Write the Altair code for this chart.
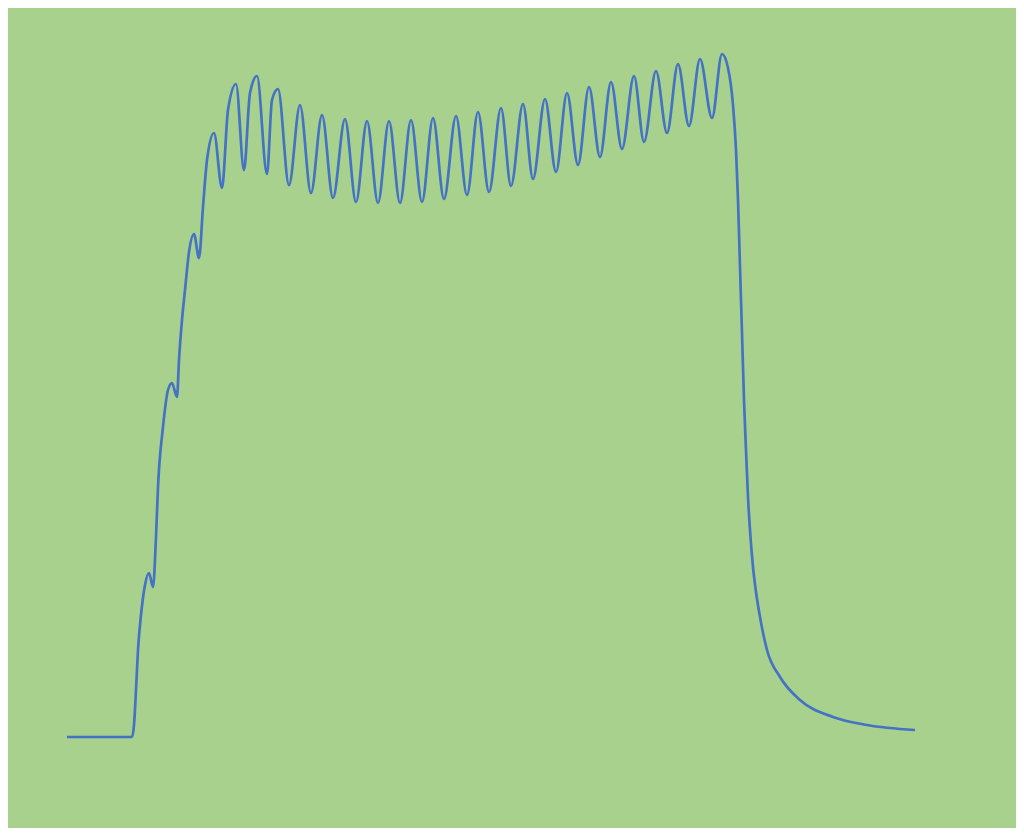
import altair as alt
import pandas as pd

# Values (time units, signal level units)
time = [0, 65, 67, 69, 71, 74, 78, 82, 86, 89, 91, 96, 101, 105, 110, 112, 115, 118, 122, 127, 132,
        136, 140, 147, 155, 161, 169, 177, 183, 190, 200, 205, 211, 222, 233, 244, 255, 266, 278,
        289, 300, 311, 322, 333, 344, 355, 366, 377, 389, 400, 411, 422, 434, 444, 456, 466, 478,
        489, 500, 511, 522, 533, 544, 555, 567, 577, 589, 600, 611, 622, 633, 645, 655, 661, 666,
        669, 671, 673, 675, 677, 679, 681, 683, 686, 689, 693, 700, 713, 733, 766, 800, 848]
level = [0, 0, 12, 47, 87, 122, 152, 164, 150, 200, 250, 310, 347, 354, 340, 377, 417, 447, 485, 503, 479,
         530, 577, 604, 549, 627, 653, 567, 644, 661, 563, 637, 648, 552, 632, 544, 622, 539, 618,
         535, 616, 534, 616, 534, 617, 535, 619, 538, 621, 542, 625, 545, 629, 551, 633, 558, 638,
         565, 644, 572, 650, 580, 655, 588, 661, 595, 666, 604, 673, 611, 678, 619, 683, 669, 632,
         587, 537, 470, 404, 337, 287, 240, 207, 170, 145, 120, 87, 60, 37, 20, 12, 7]

df = pd.DataFrame({"t": time, "v": level})

chart = (
    alt.Chart(df)
    .mark_line(color="#4472C4", strokeWidth=2.7, interpolate="monotone")
    .encode(
        x=alt.X("t:Q", scale=alt.Scale(domain=[-59, 949], nice=False, zero=False), axis=None),
        y=alt.Y("v:Q", scale=alt.Scale(domain=[-91, 729], nice=False, zero=False), axis=None),
    )
    .properties(width=1008, height=820, background="#A9D18E", padding=0,
                autosize=alt.AutoSizeParams(type="none"))
    .configure_view(stroke=None)
)

chart.save("out.html", embed_options={"renderer": "svg", "actions": False})
